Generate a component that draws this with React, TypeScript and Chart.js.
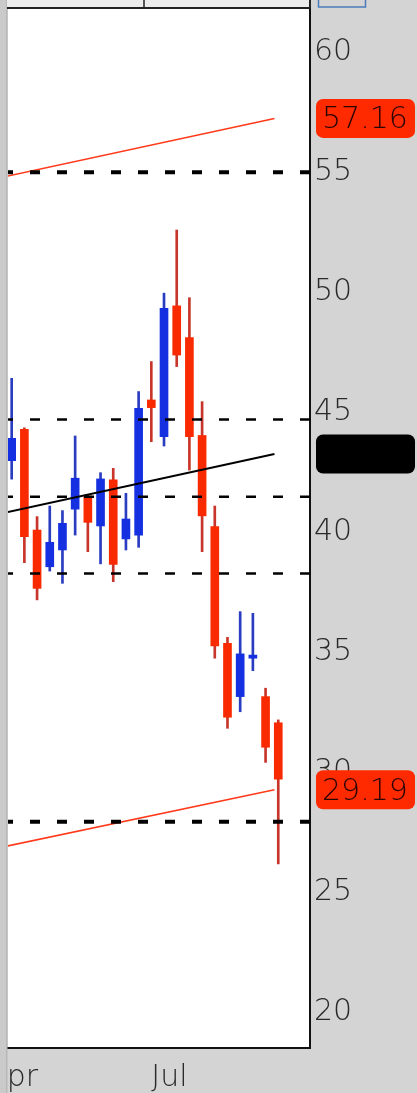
import React, { useEffect, useRef } from 'react';
import { Chart, registerables } from 'chart.js';

Chart.register(...registerables);

// ---- data (weekly candles) ----
const weekIndex = [1, 2, 3, 4, 5, 6, 7, 8, 9, 10, 11, 12, 13, 14, 15, 16, 17, 18, 19, 20, 21, 22];
const opens = [42.90, 44.21, 40.01, 38.48, 39.18, 40.88, 41.43, 40.18, 42.10, 39.64, 39.80, 45.43, 43.90, 49.35, 48.03, 43.95, 40.15, 35.29, 33.07, 34.67, 33.07, 31.98];
const highs = [46.33, 44.27, 40.57, 41.01, 40.82, 43.93, 41.47, 42.40, 42.58, 41.54, 45.78, 47.03, 49.88, 52.51, 49.69, 45.36, 41.01, 35.54, 36.61, 36.54, 33.42, 32.10];
const lows = [42.13, 38.65, 37.10, 38.30, 37.79, 39.80, 39.11, 38.60, 37.86, 39.18, 39.29, 43.69, 43.51, 46.82, 42.51, 39.11, 34.67, 31.75, 32.44, 34.15, 30.33, 26.10];
const closes = [43.83, 39.73, 37.58, 39.50, 40.29, 42.17, 40.33, 42.14, 38.58, 40.47, 45.08, 45.11, 49.25, 47.30, 43.90, 40.60, 35.18, 32.21, 34.85, 34.80, 30.96, 29.63];

// month ticks (week index of first week of month)
const monthTickIndex = [-1, 12];
const monthTickLabels = ['Apr', 'Jul'];

// horizontal retracement levels
const fibLevels = [54.92, 44.62, 41.40, 38.20, 27.86];

// regression channel (start / end week index and values)
const channelX = [0, 21.7];
const upperChannel = [54.68, 57.16];
const middleChannel = [40.68, 43.18];
const lowerChannel = [26.77, 29.19];

// visible window
const xMin = 0.71;
const xMax = 24.5;
const yMin = 18.43;
const yMax = 61.76;

const BLUE = '#1530e0';
const RED = '#fa2a00';
const BLUE_WICK = '#2a3cc0';
const RED_WICK = '#c8352a';
const FONT = 'DejaVu Sans';

export default function App() {
  const ref = useRef<HTMLCanvasElement>(null);

  useEffect(() => {
    const canvas = ref.current;
    if (!canvas) return;
    const up = closes.map((c, i) => c >= opens[i]);

    const datasets: any[] = [];
    fibLevels.forEach((v, i) => {
      const bold = i === 0 || i === fibLevels.length - 1;
      datasets.push({
        type: 'line',
        data: [{ x: xMin, y: v }, { x: xMax, y: v }],
        borderColor: '#000',
        borderWidth: bold ? 4 : 2.5,
        borderDash: [10, 17],
        borderDashOffset: 5,
        pointRadius: 0,
        order: 0,
      });
    });
    const chan = (vals: number[], color: string, w: number) => ({
      type: 'line',
      data: channelX.map((x, i) => ({ x, y: vals[i] })),
      borderColor: color,
      borderWidth: w,
      pointRadius: 0,
      order: 0,
    });
    datasets.push(chan(upperChannel, '#ff3a1a', 1.6));
    datasets.push(chan(lowerChannel, '#ff3a1a', 1.6));
    datasets.push(chan(middleChannel, '#000000', 2));

    datasets.push({
      type: 'bar',
      data: weekIndex.map((x, i) => ({ x, y: [opens[i], closes[i]] })),
      backgroundColor: up.map((u) => (u ? BLUE : RED)),
      barThickness: 8,
      grouped: false,
      borderWidth: 0,
      order: 1,
    });
    datasets.push({
      type: 'bar',
      data: weekIndex.map((x, i) => ({ x, y: [lows[i], highs[i]] })),
      backgroundColor: up.map((u) => (u ? BLUE_WICK : RED_WICK)),
      barThickness: 2,
      grouped: false,
      borderWidth: 0,
      order: 2,
    });

    const tags = [
      { value: upperChannel[1], fill: '#ff2a00', text: '#2a0500' },
      { value: middleChannel[1], fill: '#000000', text: '#000000' },
      { value: lowerChannel[1], fill: '#ff2a00', text: '#2a0500' },
    ];

    const decor = {
      id: 'decor',
      beforeDraw(chart: any) {
        const { ctx, chartArea } = chart;
        ctx.save();
        ctx.fillStyle = '#d4d4d4';
        ctx.fillRect(0, 0, chart.width, chart.height);
        ctx.fillStyle = '#ffffff';
        ctx.fillRect(chartArea.left, chartArea.top, chartArea.right - chartArea.left, chartArea.bottom - chartArea.top);
        ctx.restore();
      },
      afterDraw(chart: any) {
        const { ctx, chartArea } = chart;
        const ys = chart.scales.y;
        ctx.save();
        // left strip
        ctx.fillStyle = '#cacaca';
        ctx.fillRect(0, 0, chartArea.left - 1, chart.height);
        ctx.fillStyle = '#b8b8b8';
        ctx.fillRect(chartArea.left - 2, 0, 1.5, chart.height);
        // top bar
        ctx.fillStyle = '#ececec';
        ctx.fillRect(chartArea.left - 1, 0, chartArea.right - chartArea.left, chartArea.top - 1);
        ctx.strokeStyle = '#222';
        ctx.lineWidth = 2;
        ctx.beginPath();
        ctx.moveTo(chartArea.left - 1, chartArea.top);
        ctx.lineTo(chartArea.right, chartArea.top);
        ctx.moveTo(chartArea.right, 0);
        ctx.lineTo(chartArea.right, chartArea.top);
        ctx.stroke();
        ctx.lineWidth = 1.5;
        ctx.beginPath();
        ctx.moveTo(144, 0);
        ctx.lineTo(144, chartArea.top);
        ctx.stroke();
        ctx.strokeStyle = '#4b7bbd';
        ctx.lineWidth = 1.5;
        ctx.strokeRect(chartArea.right + 8.5, -3, 47, 10);
        // price tags
        ctx.font = `300 30px "${FONT}"`;
        ctx.textBaseline = 'middle';
        ctx.textAlign = 'left';
        tags.forEach((t) => {
          const py = ys.getPixelForValue(t.value);
          ctx.fillStyle = t.fill;
          ctx.beginPath();
          ctx.roundRect(ys.left + 6, py - 19.5, 99, 39, 7);
          ctx.fill();
          ctx.fillStyle = t.text;
          ctx.fillText(t.value.toFixed(2), ys.left + 12, py + 2);
        });
        ctx.restore();
      },
    };

    const chart = new Chart(canvas, {
      type: 'bar',
      data: { datasets },
      options: {
        animation: false,
        responsive: false,
        layout: { padding: { left: 8, top: 8, right: 0, bottom: 0 } },
        plugins: { legend: { display: false }, tooltip: { enabled: false } },
        scales: {
          x: {
            type: 'linear',
            position: 'bottom',
            min: xMin,
            max: xMax,
            bounds: 'data',
            offset: false,
            grid: { display: false, drawTicks: false },
            border: { display: true, color: '#111', width: 2 },
            ticks: {
              autoSkip: false,
              align: 'start',
              maxRotation: 0,
              padding: 12,
              color: '#2a2a2a',
              font: { family: FONT, size: 30, weight: '300' },
              callback: (v: any) => {
                const k = monthTickIndex.indexOf(Number(v));
                return k >= 0 ? monthTickLabels[k] : '';
              },
            },
            afterBuildTicks: (s: any) => {
              s.ticks = monthTickIndex.map((value) => ({ value }));
            },
            afterFit: (s: any) => {
              s.height = 45;
              s.paddingLeft = 0;
              s.paddingRight = 0;
            },
          } as any,
          y: {
            type: 'linear',
            position: 'right',
            min: yMin,
            max: yMax,
            grid: { display: false, drawTicks: false },
            border: { display: true, color: '#111', width: 2 },
            ticks: {
              stepSize: 5,
              includeBounds: false,
              padding: 4,
              labelOffset: 2,
              color: '#2a2a2a',
              font: { family: FONT, size: 30, weight: '300' },
            },
            afterFit: (s: any) => {
              s.width = 107;
              s.paddingTop = 0;
              s.paddingBottom = 0;
            },
          } as any,
        },
      },
      plugins: [decor],
    });
    return () => chart.destroy();
  }, []);

  return (
    <div style={{ position: 'fixed', left: 0, top: 0, width: 417, height: 1093, background: '#d4d4d4' }}>
      <canvas ref={ref} width={417} height={1093} style={{ display: 'block', width: 417, height: 1093 }} />
    </div>
  );
}
